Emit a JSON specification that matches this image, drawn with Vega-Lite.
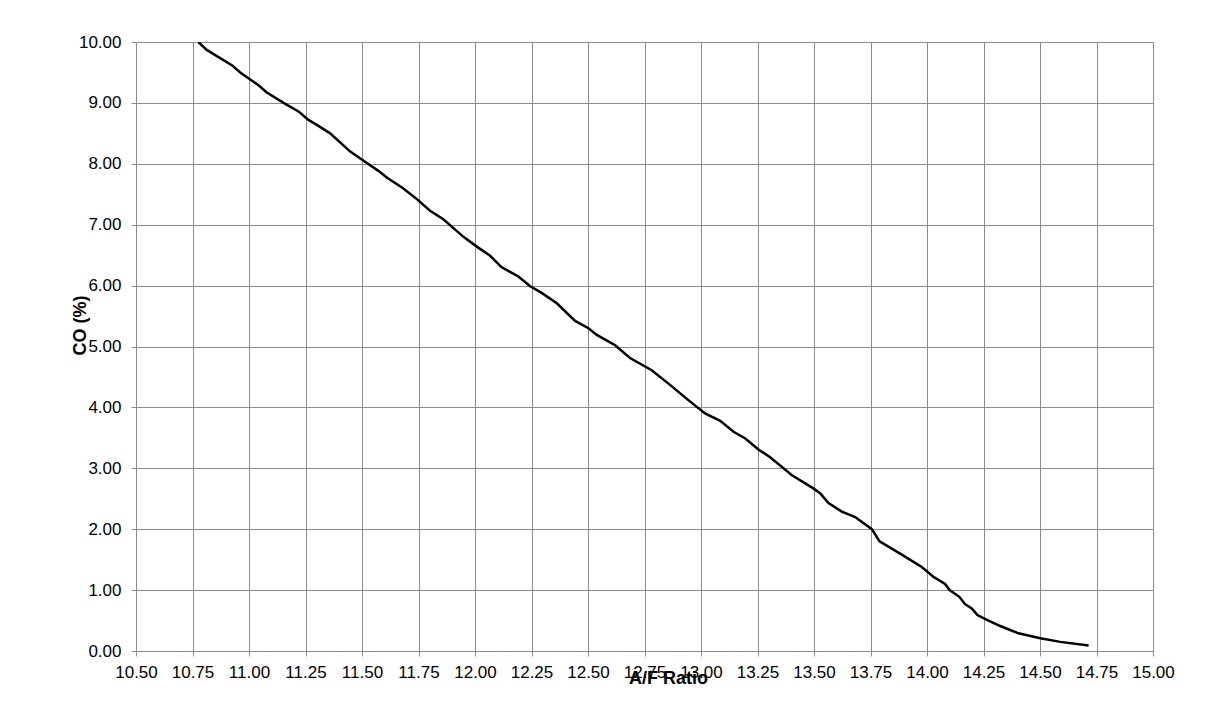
{
  "$schema": "https://vega.github.io/schema/vega-lite/v6.json",
  "width": 1017,
  "height": 609,
  "autosize": {"type": "none"},
  "padding": {"left": 136, "top": 42, "right": 70, "bottom": 65},
  "background": "white",
  "data": {
    "values": [
      {"af": 10.776, "co": 10.0},
      {"af": 10.813, "co": 9.87},
      {"af": 10.924, "co": 9.62},
      {"af": 10.961, "co": 9.5},
      {"af": 11.042, "co": 9.29},
      {"af": 11.079, "co": 9.17},
      {"af": 11.153, "co": 9.0},
      {"af": 11.219, "co": 8.86},
      {"af": 11.263, "co": 8.72},
      {"af": 11.3, "co": 8.64},
      {"af": 11.359, "co": 8.5},
      {"af": 11.448, "co": 8.2},
      {"af": 11.515, "co": 8.03},
      {"af": 11.574, "co": 7.88},
      {"af": 11.611, "co": 7.77},
      {"af": 11.677, "co": 7.61},
      {"af": 11.743, "co": 7.42},
      {"af": 11.801, "co": 7.23},
      {"af": 11.86, "co": 7.09},
      {"af": 11.949, "co": 6.8},
      {"af": 12.008, "co": 6.64},
      {"af": 12.067, "co": 6.49},
      {"af": 12.118, "co": 6.3},
      {"af": 12.192, "co": 6.15},
      {"af": 12.244, "co": 5.99},
      {"af": 12.295, "co": 5.88},
      {"af": 12.362, "co": 5.71},
      {"af": 12.443, "co": 5.42},
      {"af": 12.502, "co": 5.3},
      {"af": 12.539, "co": 5.19},
      {"af": 12.62, "co": 5.02},
      {"af": 12.686, "co": 4.81},
      {"af": 12.782, "co": 4.61},
      {"af": 12.863, "co": 4.37},
      {"af": 12.944, "co": 4.12},
      {"af": 13.018, "co": 3.9},
      {"af": 13.085, "co": 3.78},
      {"af": 13.144, "co": 3.6},
      {"af": 13.196, "co": 3.49},
      {"af": 13.254, "co": 3.31},
      {"af": 13.306, "co": 3.18},
      {"af": 13.401, "co": 2.89},
      {"af": 13.497, "co": 2.67},
      {"af": 13.527, "co": 2.59},
      {"af": 13.564, "co": 2.43},
      {"af": 13.623, "co": 2.29},
      {"af": 13.682, "co": 2.2},
      {"af": 13.756, "co": 2.0},
      {"af": 13.79, "co": 1.8},
      {"af": 13.881, "co": 1.6},
      {"af": 13.977, "co": 1.38},
      {"af": 14.028, "co": 1.22},
      {"af": 14.08, "co": 1.1},
      {"af": 14.1, "co": 1.0},
      {"af": 14.143, "co": 0.89},
      {"af": 14.168, "co": 0.77},
      {"af": 14.198, "co": 0.7},
      {"af": 14.223, "co": 0.59},
      {"af": 14.272, "co": 0.5},
      {"af": 14.324, "co": 0.41},
      {"af": 14.405, "co": 0.29},
      {"af": 14.501, "co": 0.21},
      {"af": 14.59, "co": 0.15},
      {"af": 14.715, "co": 0.09}
    ]
  },
  "mark": {"type": "line", "color": "black", "strokeWidth": 2.5, "clip": true},
  "encoding": {
    "x": {
      "field": "af",
      "type": "quantitative",
      "title": "A/F Ratio",
      "scale": {"domain": [10.5, 15], "nice": false, "zero": false},
      "axis": {
        "values": [10.5, 10.75, 11, 11.25, 11.5, 11.75, 12, 12.25, 12.5, 12.75, 13, 13.25, 13.5, 13.75, 14, 14.25, 14.5, 14.75, 15],
        "format": ".2f",
        "labelFlush": false,
        "labelOverlap": false,
        "labelPadding": 8,
        "titleX": 532,
        "titleY": 18,
        "titleBaseline": "top",
        "titleAnchor": null,
        "titleAlign": "center"
      }
    },
    "y": {
      "field": "co",
      "type": "quantitative",
      "title": "CO (%)",
      "scale": {"domain": [0, 10], "nice": false},
      "axis": {
        "values": [0, 1, 2, 3, 4, 5, 6, 7, 8, 9, 10],
        "format": ".2f",
        "labelFlush": false,
        "labelOverlap": false,
        "labelPadding": 10,
        "titleX": -56,
        "titleY": 283,
        "titleAngle": -90,
        "titleBaseline": "middle",
        "titleAlign": "center",
        "titleAnchor": null
      }
    }
  },
  "config": {
    "view": {"stroke": null},
    "axis": {
      "grid": true,
      "gridColor": "#8c8c8c",
      "gridOpacity": 1,
      "gridWidth": 1,
      "domain": false,
      "ticks": true,
      "tickSize": 5,
      "tickColor": "#8c8c8c",
      "labelFont": "Liberation Sans",
      "labelFontSize": 17,
      "labelColor": "black",
      "titleFont": "Liberation Sans",
      "titleFontSize": 18,
      "titleFontWeight": "bold",
      "titleColor": "black"
    }
  }
}
